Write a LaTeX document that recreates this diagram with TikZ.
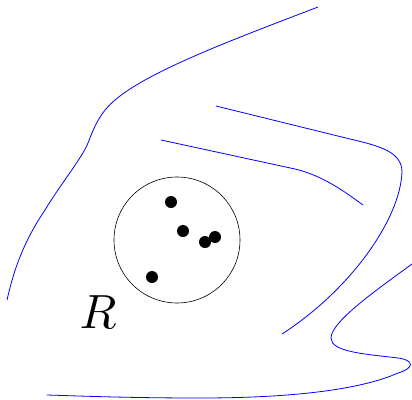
\documentclass[tikz,border=0pt]{standalone}
\begin{document}
\begin{tikzpicture}[x=1pt,y=-1pt,
  bound/.style={draw=blue,line width=0.8pt},
  pt/.style={fill=black,draw=none}]
\useasboundingbox (0,0) rectangle (412,399);
\draw[bound] (318,7) .. controls (240,37) and (150,70) .. (115,100)
  .. controls (100,113) and (95,125) .. (88,143)
  .. controls (82,158) and (60,185) .. (45,210)
  .. controls (25,240) and (15,265) .. (7,300);
\draw[bound] (216,106) -- (350,139) .. controls (380,146) and (402,152) .. (402,172)
  .. controls (400,220) and (350,290) .. (282,334);
\draw[bound] (161,140) -- (295,169) .. controls (320,175) and (340,188) .. (363,205);
\draw[bound] (412,264) .. controls (375,291) and (331,322) .. (331,338)
  .. controls (331,352) and (365,354) .. (398,358)
  .. controls (414,360) and (415,368) .. (398,373)
  .. controls (360,390) and (290,398) .. (200,398)
  .. controls (130,398) and (80,396) .. (47,395);
\node[draw=black,line width=0.6pt,circle,minimum size=126pt,inner sep=0pt] (disk) at (177,240) {};
\fill[pt] (171,202) circle (6);
\fill[pt] (183,231) circle (6);
\fill[pt] (205,242) circle (6);
\fill[pt] (215,237) circle (6);
\fill[pt] (152,277) circle (6);
\node[scale=4.8] (R) at (98,312) {$R$};
\end{tikzpicture}
\end{document}
